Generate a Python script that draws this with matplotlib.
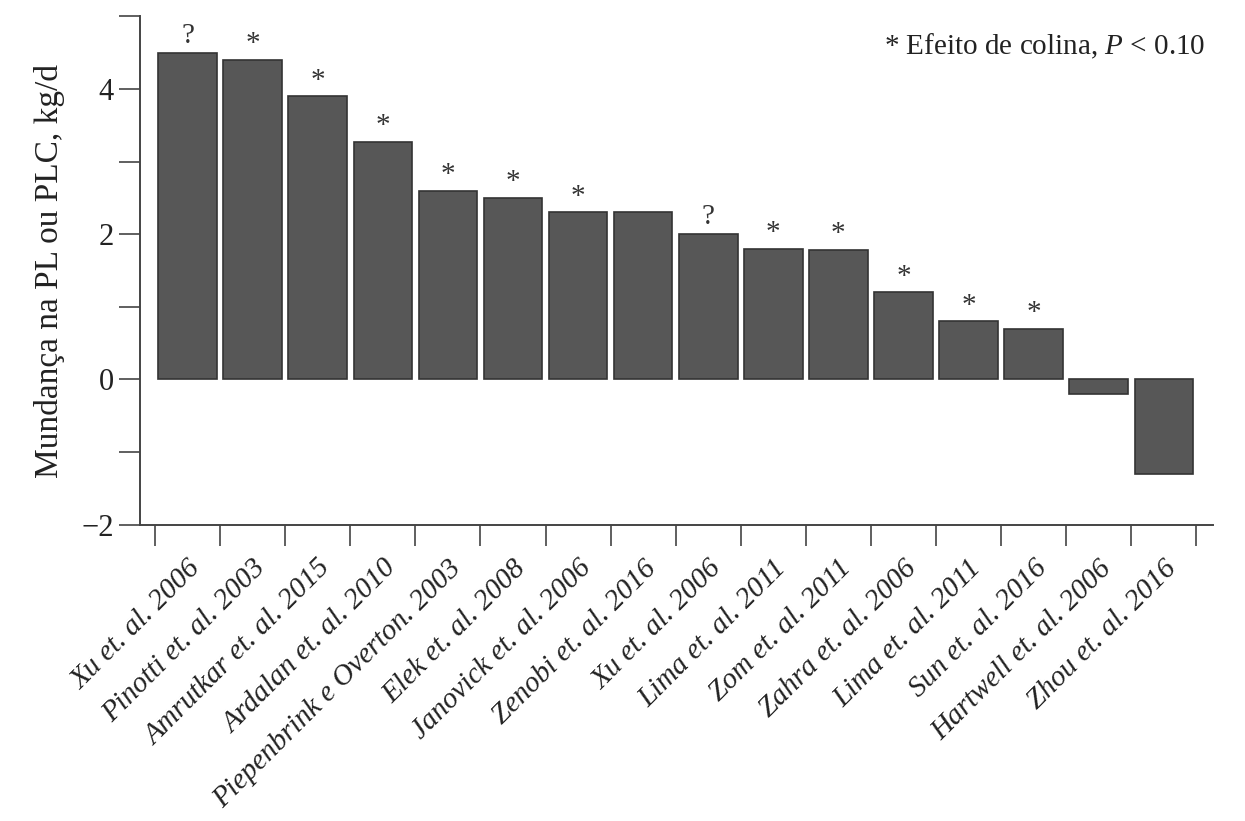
import matplotlib
matplotlib.use("Agg")
import matplotlib.pyplot as plt
from matplotlib.ticker import MultipleLocator

studies = ["Xu et. al. 2006", "Pinotti et. al. 2003", "Amrutkar et. al. 2015",
           "Ardalan et. al. 2010", "Piepenbrink e Overton. 2003", "Elek et. al. 2008",
           "Janovick et. al. 2006", "Zenobi et. al. 2016", "Xu et. al. 2006",
           "Lima et. al. 2011", "Zom et. al. 2011", "Zahra et. al. 2006",
           "Lima et. al. 2011", "Sun et. al. 2016", "Hartwell et. al. 2006",
           "Zhou et. al. 2016"]
change = [4.5, 4.4, 3.9, 3.27, 2.6, 2.5, 2.3, 2.3, 2.0, 1.8, 1.78, 1.2, 0.8, 0.7, -0.2, -1.3]
marks = ["?", "*", "*", "*", "*", "*", "*", "", "?", "*", "*", "*", "*", "*", "", ""]

plt.rcParams['font.family'] = ['Liberation Serif', 'DejaVu Serif']
plt.rcParams['mathtext.fontset'] = 'custom'
plt.rcParams['mathtext.rm'] = 'Liberation Serif'
plt.rcParams['mathtext.it'] = 'Liberation Serif:italic'

fig = plt.figure(figsize=(12.45, 8.21), dpi=100)
ax = fig.add_axes([0.1125, 0.361, 0.862, 0.619])

x = list(range(len(studies)))
ax.bar(x, change, width=0.9, color="#575757", edgecolor="#333333", linewidth=1.2, zorder=2)

for xi, v, m in zip(x, change, marks):
    if m:
        ax.annotate(m, (xi, v), xytext=(0, 2 if m == "*" else 3), textcoords="offset points",
                    ha="center", va="bottom", fontsize=21, color="#333333")

ax.set_xlim(-0.73, 15.76)
ax.set_ylim(-2, 5)
ax.set_yticks([-2, 0, 2, 4])
ax.set_yticklabels(["\u22122", "0", "2", "4"])
ax.yaxis.set_minor_locator(MultipleLocator(1))

# ticks at bar boundaries, labels at bar centres
ax.set_xticks([i - 0.5 for i in range(len(studies) + 1)])
ax.set_xticklabels([])
ax.set_xticks(x, minor=True)
ax.set_xticklabels(studies, minor=True, rotation=45, ha="right", va="top",
                   rotation_mode="anchor", fontsize=21, style="italic", color="#222222")
ax.tick_params(axis="x", which="major", length=15, width=1.2, direction="out", color="#444444")
ax.tick_params(axis="x", which="minor", length=0, pad=22)
ax.tick_params(axis="y", which="both", length=15, width=1.2, direction="out",
               labelsize=22, color="#444444", labelcolor="#222222", pad=4)

for s in ["top", "right"]:
    ax.spines[s].set_visible(False)
for s in ["left", "bottom"]:
    ax.spines[s].set_linewidth(1.4)
    ax.spines[s].set_color("#444444")

ax.set_ylabel("Mundança na PL ou PLC, kg/d", fontsize=24, color="#222222", labelpad=12)

fig.text(0.968, 0.944, r"* Efeito de colina, $\it{P}$ < $\it{0.10}$", ha="right", va="center",
         fontsize=21, color="#222222")

fig.savefig("out.png", dpi=100, facecolor="white")
